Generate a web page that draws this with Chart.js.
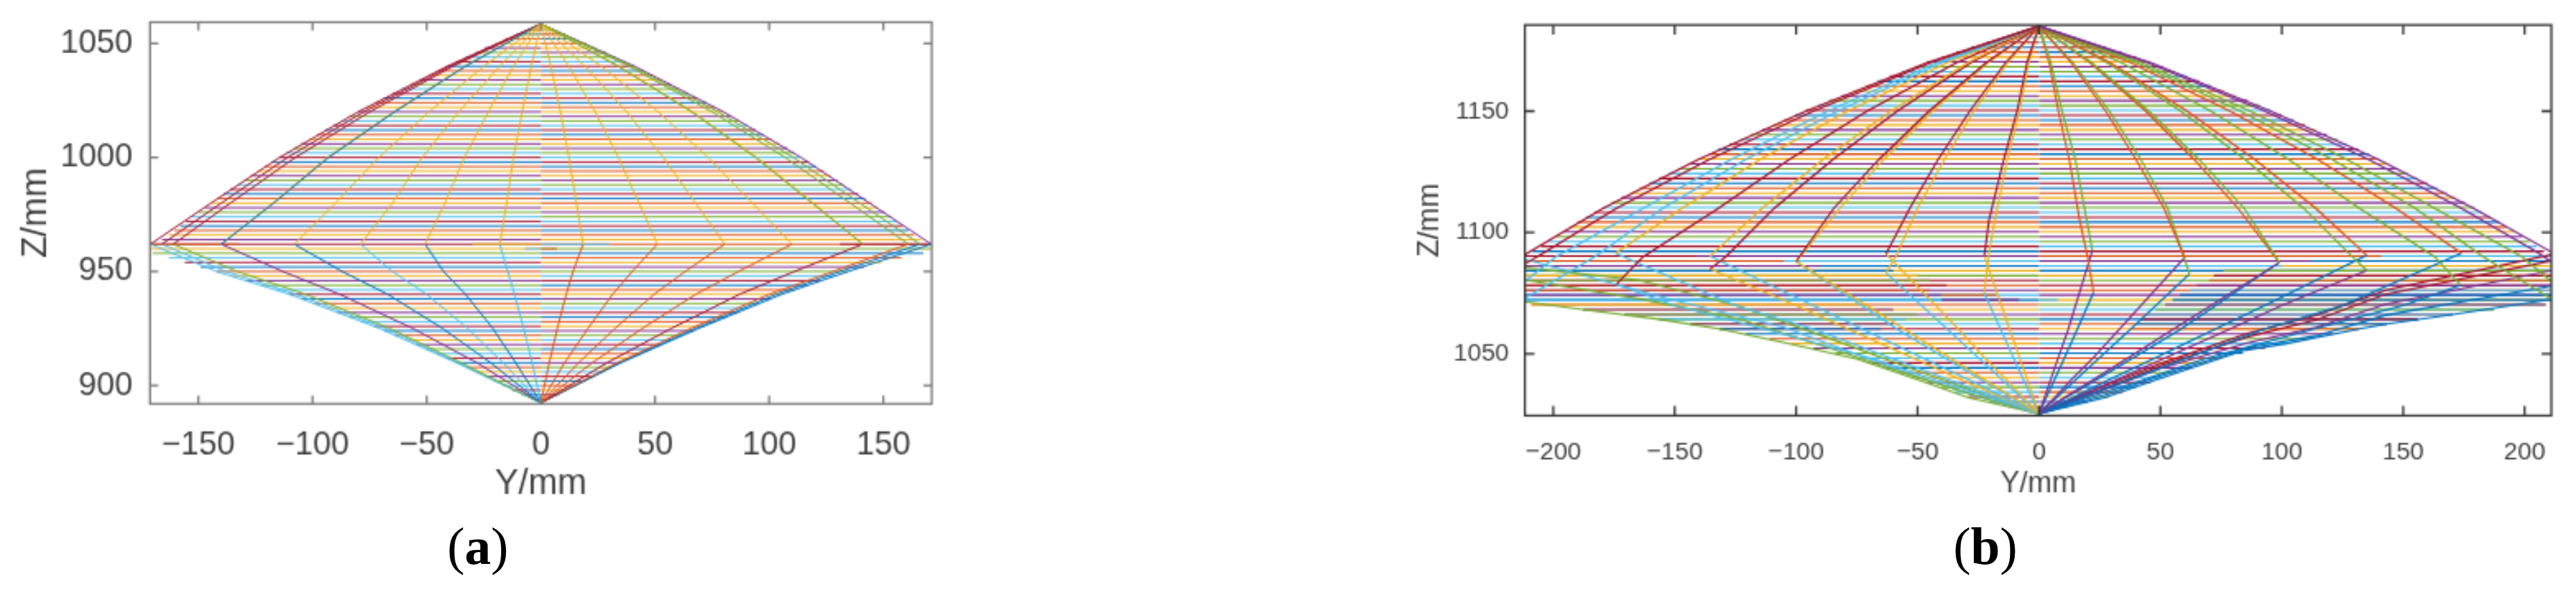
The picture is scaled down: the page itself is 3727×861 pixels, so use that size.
<!DOCTYPE html>
<html>
<head>
<meta charset="utf-8">
<title>Y/Z ray fans</title>
<script src="https://cdn.jsdelivr.net/npm/chart.js@4"></script>
<style>
  html, body { margin: 0; padding: 0; background: #fff; overflow: hidden; }
  body { width: 3727px; height: 861px; position: relative; }
  canvas { position: absolute; top: 0; }
  #chartA { left: 0; }
  #chartB { left: 2000px; }
  .cap { position: absolute; top: 740px; font: 76px "Liberation Serif", serif; color: #000; line-height: 100px; }
  #capA { left: 647px; }
  #capB { left: 2826px; }
</style>
</head>
<body>
<canvas id="chartA" width="1400" height="760"></canvas>
<canvas id="chartB" width="1727" height="760"></canvas>
<div class="cap" id="capA">(<b>a</b>)</div>
<div class="cap" id="capB">(<b>b</b>)</div>
<script>
const palette = { B: "#0072BD", O: "#D95319", Y: "#EDB120", P: "#7E2F8E", G: "#77AC30", L: "#4DBEEE", R: "#A2142F" };

// ---------- panel (a) ----------
const aXTicks = [-150, -100, -50, 0, 50, 100, 150];
const aYTicks = [900, 950, 1000, 1050];

const aLevels = [1056, 1054, 1052, 1050, 1048, 1046, 1044, 1042, 1040, 1038, 1036, 1034, 1032, 1030, 1028, 1026, 1024, 1022, 1020, 1018, 1016, 1014, 1012, 1010, 1008, 1006, 1004, 1002, 1000, 998, 996, 994, 992, 990, 988, 986, 984, 982, 980, 978, 976, 974, 972, 970, 968, 966, 964, 962, 960, 958, 956, 954, 952, 950, 948, 946, 944, 942, 940, 938, 936, 934, 932, 930, 928, 926, 924, 922, 920, 918, 916, 914, 912, 910, 908, 906, 904, 902, 900, 898, 896, 894];
const aNegEnd = [-5.5, -10.5, -15.5, -20, -24.5, -28.5, -33, -37, -41, -45, -49, -53, -57, -61, -65, -69, -72.5, -76.5, -80, -84, -87.5, -91, -94.5, -98, -101.5, -105, -108, -111.5, -114.5, -118, -121, -124, -127, -130, -133, -136, -139, -141.5, -144.5, -147, -150, -153, -155.5, -158, -160.5, -163, -166, -171, -171, -170, -163, -156, -149, -142, -135, -129, -122.5, -116, -110, -105, -99.5, -94, -89, -84, -79, -73, -68.5, -64, -59, -54.5, -50, -45.5, -41, -37, -32.5, -28.5, -24.5, -20.5, -16.5, -12.5, -8.5, -4];
const aPosEnd = [5.5, 10.5, 15, 20, 24, 28.5, 32.5, 37, 41, 45, 49, 53, 57, 60.5, 64.5, 68.5, 72.5, 76, 80, 83.5, 87, 90.5, 94, 97.5, 101, 104.5, 108, 111, 114, 117.5, 120.5, 124, 127, 130, 133, 136, 139, 142, 145, 147.5, 150.5, 153.5, 156, 158.5, 161, 163.5, 166.5, 171, 171, 167.5, 158, 149, 141.5, 134.5, 128, 122, 116.5, 111, 105.5, 100.5, 95.5, 90.5, 86, 81, 76.5, 71.5, 67, 62, 57.5, 52.5, 48, 43.5, 39, 35, 30.5, 27, 23, 19.5, 15.5, 11.5, 8, 3.5];
const aNegColors = "RBOYPGL".repeat(6) + "RBOYP" + "RYGL" + "RBOYPGL".repeat(4) + "RBO";
const aPosColors = "LRBOYPG".repeat(6) + "LRBOY" + "OG" + "BOYPG" + "LRBOYPG".repeat(4);
// pieces of a level that change colour near the knee: z, from, to, colour
const aPatches = [
  [962, -171, -132, "O"], [962, -30, 0, "Y"], [960, -7, 0, "L"],
  [962, 0, 30, "L"], [962, 131, 171, "R"], [960, 0, 7, "O"]
];

const aUpperZ = [1058.5, 1040, 1020, 1000, 980, 962];
const aLowerZ = [962, 950, 940, 925, 910, 892.5];
const aUpperRays = [
  [0, -4.2, -8.2, -12, -15, -18], [0, -12, -23, -33.5, -42, -50.7], [0, -18, -36, -52, -65, -79], [0, -25, -49, -71, -90, -108], [0, -33, -64, -93, -117, -140], [0, -33.4, -64.6, -93.6, -117.6, -140],
  [0, -38.5, -75, -107.6, -136, -161], [0, -39.8, -77.6, -111, -140, -166], [0, -41, -80, -114.5, -144.5, -171],
  [0, 4.4, 8.6, 12.3, 15.6, 18.5], [0, 12.2, 23.8, 34, 43, 51], [0, 19.3, 37.6, 53.6, 67.8, 80.5], [0, 26.4, 51.4, 73.3, 92.6, 110], [0, 33.8, 66, 94, 118.8, 141], [0, 34.2, 66.6, 94.6, 119.4, 141],
  [0, 38.5, 75, 107, 135.5, 161], [0, 39.8, 77.6, 110.6, 139.7, 166], [0, 41, 80, 114, 144, 171]
];
const aUpperColors = "YYYYBYRRRYYYYGYGGP";
const aLowerRays = [
  [-18, -14.5, -11.5, -7.5, -3.8, 0], [-50.7, -42.6, -33, -21, -11, 0], [-79, -65, -50, -32, -16.5, 0], [-108, -87, -67, -43, -22, 0], [-140, -113, -88, -56, -28, 0],
  [-161, -133, -103, -66, -35, 0], [-166, -138, -107, -68, -36, 0], [-171, -142, -110, -70.5, -37, 0],
  [18.5, 14.1, 11.1, 7.2, 3.7, 0], [51, 40, 31.4, 20.6, 10.4, 0], [80.5, 63.2, 49.6, 32.4, 16.5, 0], [110, 86.5, 67.8, 44.4, 22.5, 0], [141, 111, 87, 57, 29, 0],
  [161, 128, 100, 65.5, 33.5, 0], [166, 131, 103, 67.5, 34.5, 0], [171, 134.5, 105.5, 69, 35, 0]
];
const aLowerColors = "LBLBPGLLOOOOROBB";

// ---------- panel (b) ----------
const bXTicks = [-200, -150, -100, -50, 0, 50, 100, 150, 200];
const bYTicks = [1050, 1100, 1150];

const bLevels = [1182.3, 1180.3, 1178.3, 1176.3, 1174.3, 1172.3, 1170.3, 1168.3, 1166.3, 1164.3, 1162.3, 1160.3, 1158.3, 1156.3, 1154.3, 1152.3, 1150.3, 1148.3, 1146.3, 1144.3, 1142.3, 1140.3, 1138.3, 1136.3, 1134.3, 1132.3, 1130.3, 1128.3, 1126.3, 1124.3, 1122.3, 1120.3, 1118.3, 1116.3, 1114.3, 1112.3, 1110.3, 1108.3, 1106.3, 1104.3, 1102.3, 1100.3, 1098.3, 1096.3, 1094.3, 1092.3, 1090.3, 1088.3, 1086.3, 1084.3, 1082.3, 1080.3, 1078.3, 1076.3, 1074.3, 1072.3, 1070.3, 1068.3, 1066.3, 1064.3, 1062.3, 1060.3, 1058.3, 1056.3, 1054.3, 1052.3, 1050.3, 1048.3, 1046.3, 1044.3, 1042.3, 1040.3, 1038.3, 1036.3, 1034.3, 1032.3, 1030.3, 1028.3, 1026.3];
const bNegEnd = [-9, -15, -21.5, -28, -34, -40, -46, -51, -56.5, -61.5, -66.5, -71.5, -76.5, -81.5, -86.5, -91, -96, -100.5, -105, -109.5, -114, -118.5, -123, -127.5, -132, -136, -140.5, -144.5, -148.5, -152.5, -156.5, -160.5, -164.5, -168, -172, -176, -179.5, -183, -186.5, -190, -193, -196, -199, -202, -205, -208.5, -211.7, -211.7, -211.7, -211.7, -211.7, -211.7, -211.7, -211.7, -211.7, -211.7, -209, -187.7, -170.6, -156.4, -143.6, -131.6, -121, -111, -102, -93, -84, -75, -69, -63, -57, -51.5, -46, -40, -34.5, -29, -20, -12, -3.5];
const bPosEnd = [9, 15, 21, 27.5, 34, 40, 45.5, 51, 56, 61, 66, 71, 76, 81, 86, 91, 95.5, 100, 105, 109.5, 114, 118.5, 123, 127, 131.5, 136, 140, 144, 148, 152, 156, 160, 164, 168, 171.5, 175.5, 179, 182.5, 186, 189.5, 192.5, 196, 199, 202, 205, 208, 211, 211, 211, 211, 211, 211, 211, 211, 211, 211, 208.7, 187.4, 170.3, 156, 143.2, 131.8, 120.9, 111, 101.9, 93, 84, 75, 69, 63, 57, 51.5, 46, 40, 34.5, 29, 20, 12, 3.5];
const bNegColors = "GL" + "RBOYPGL".repeat(6) + "RB" + "PLBYGROPLB" + "OYPGL" + "RBOYPGL".repeat(2) + "RBOY";
const bPosColors = "PG" + "LRBOYPG".repeat(6) + "LROPLBYGRO" + "PYGLRBOYPG" + "LRBOYPG" + "LRBOYPGL";
// the outer part of these levels has another colour than the part near Y=0
const bSplitZ = [1090.3, 1088.3, 1086.3, 1084.3, 1082.3, 1080.3, 1078.3, 1076.3, 1074.3, 1072.3, 1070.3, 1068.3, 1066.3, 1064.3, 1062.3, 1060.3];
const bSplitNeg = [-141, -105, -90, -60, -50, -45, -38, -45, -40, -40, -70, -60, -50, -55, -60, -65];
const bSplitPos = [141, 112, 100, 76, 72, 70, 65, 62, 58, 55, 52, 48, 45, 42, 40, 38];
const bOuterNeg = "ROPBYGROPLYPGLRB";
const bOuterPos = "LBYGROPLBBPGLRBO";
const bPatches = [[1074.3, -40, -17.7, "O"], [1072.3, -40, -8.2, "P"], [1072.3, 0, 7.7, "L"]];

// polylines as [Y, Z] readings
const bRays = [
  // upper left
  ["R", [[0, 1185], [-46, 1170], [-96, 1150], [-140.5, 1130], [-179.5, 1110], [-211.5, 1091]]],
  ["R", [[0, 1185], [-44.5, 1170], [-93, 1150], [-136, 1130], [-174, 1110], [-205, 1091], [-211.7, 1087]]],
  ["L", [[0, 1185], [-42, 1170], [-87, 1150], [-127, 1130], [-163, 1110], [-199, 1090], [-211.7, 1080]]],
  ["L", [[0, 1185], [-40, 1170], [-83, 1150], [-121, 1130], [-155, 1110], [-183, 1090], [-211.7, 1073]]],
  ["Y", [[0, 1185], [-37.7, 1170], [-78.7, 1150], [-115, 1130], [-147, 1110], [-174.4, 1091.5]]],
  ["R", [[0, 1185], [-33.9, 1170], [-70.8, 1150], [-103, 1130], [-132, 1110], [-163, 1090], [-174, 1078.7]]],
  ["Y", [[0, 1185], [-29.3, 1170], [-61, 1150], [-89, 1130], [-114, 1110], [-135.5, 1090.3]]],
  ["R", [[0, 1185], [-28, 1170], [-58.4, 1150], [-85, 1130], [-109, 1110], [-129, 1090], [-135.5, 1085]]],
  ["R", [[0, 1185], [-21.7, 1170], [-45.3, 1150], [-66, 1130], [-84.5, 1110], [-100, 1088.1]]],
  ["Y", [[0, 1185], [-21, 1170], [-44, 1150], [-64, 1130], [-82, 1110], [-100, 1088.1]]],
  ["R", [[0, 1185], [-13.7, 1170], [-28.5, 1150], [-41.6, 1130], [-53.2, 1110], [-63, 1091.2]]],
  ["Y", [[0, 1185], [-12.8, 1170], [-26.8, 1150], [-39, 1130], [-50, 1110], [-59, 1090], [-63, 1083.4]]],
  ["R", [[0, 1185], [-4.9, 1170], [-9, 1150], [-14.5, 1130], [-20.6, 1105], [-22.5, 1090.4]]],
  ["Y", [[0, 1185], [-4.2, 1170], [-8, 1150], [-13, 1130], [-18.2, 1105], [-20.8, 1090], [-22.5, 1075]]],
  // lower left
  ["Y", [[-22.5, 1090.4], [-12, 1060], [-7.8, 1048], [-4.7, 1039], [-2.3, 1032], [0, 1025.4]]],
  ["L", [[-22.5, 1075], [-15.7, 1060], [-10.3, 1048], [-6.2, 1039], [-3, 1032], [0, 1025.4]]],
  ["Y", [[-63, 1091.2], [-33, 1060], [-22, 1048], [-13, 1039], [-6.4, 1032], [0, 1025.4]]],
  ["L", [[-63, 1083.4], [-37.6, 1060], [-24.5, 1048], [-14.8, 1039], [-7.2, 1032], [0, 1025.4]]],
  ["Y", [[-100, 1088.1], [-55, 1060], [-36, 1048], [-21.7, 1039], [-10.5, 1032], [0, 1025.4]]],
  ["L", [[-100, 1088.1], [-58, 1060], [-38, 1048], [-23, 1039], [-11, 1032], [0, 1025.4]]],
  ["L", [[-135.5, 1090.3], [-93, 1070], [-72, 1060], [-47, 1048], [-28, 1039], [-13.8, 1032], [0, 1025.4]]],
  ["Y", [[-135.5, 1085], [-100, 1070], [-78, 1060], [-51, 1048], [-31, 1039], [-15, 1032], [0, 1025.4]]],
  ["L", [[-174.4, 1091.5], [-125, 1070], [-92, 1060], [-60, 1048], [-36, 1039], [-17, 1032], [0, 1025.4]]],
  ["L", [[-174, 1078.7], [-150, 1070], [-112, 1060], [-68, 1048], [-42, 1039], [-20, 1032], [0, 1025.4]]],
  ["G", [[-211.5, 1085.5], [-165, 1080.5], [-124, 1069.8], [-85, 1056], [-50, 1043], [-22, 1033], [0, 1025.4]]],
  ["G", [[-211.5, 1080.5], [-164, 1072.6], [-124, 1064.6], [-85, 1052], [-52, 1041], [-25, 1032.5], [0, 1025.4]]],
  ["L", [[-211.5, 1089], [-150, 1072], [-105, 1061], [-70, 1048], [-45, 1039], [-22, 1031.5], [0, 1025.4]]],
  ["G", [[-211.5, 1071.5], [-187.7, 1068.3], [-156.4, 1064.3], [-131.6, 1060.3], [-102, 1054], [-75, 1048], [-51.5, 1040], [-29, 1032], [0, 1025.4]]],
  // upper right
  ["P", [[0, 1185], [46, 1170], [95.5, 1150], [140, 1130], [179, 1110], [211, 1092]]],
  ["P", [[0, 1185], [44.5, 1170], [93, 1150], [136, 1130], [174, 1110], [205, 1092], [211, 1088]]],
  ["G", [[0, 1185], [42, 1170], [87, 1150], [127, 1130], [163, 1110], [199, 1090], [211, 1080]]],
  ["G", [[0, 1185], [40, 1170], [83, 1150], [121, 1130], [155, 1110], [183, 1090], [211, 1072.6]]],
  ["O", [[0, 1185], [37.7, 1170], [78.7, 1150], [115, 1130], [147, 1110], [174, 1091.5]]],
  ["G", [[0, 1185], [33.9, 1170], [70.8, 1150], [103, 1130], [132, 1110], [163, 1090], [173.6, 1078.3]]],
  ["O", [[0, 1185], [29.3, 1170], [61, 1150], [89, 1130], [114, 1110], [135, 1090.6]]],
  ["G", [[0, 1185], [28, 1170], [58.4, 1150], [85, 1130], [109, 1110], [129, 1090], [135, 1084.4]]],
  ["G", [[0, 1185], [21.7, 1170], [45.3, 1150], [66, 1130], [84.5, 1110], [99, 1087.7]]],
  ["O", [[0, 1185], [21, 1170], [44, 1150], [64, 1130], [82, 1110], [99, 1087.7]]],
  ["O", [[0, 1185], [13.2, 1170], [27.5, 1150], [40, 1130], [51.5, 1110], [60, 1089.7]]],
  ["G", [[0, 1185], [14, 1170], [29, 1150], [42, 1130], [53, 1110], [59, 1092], [62, 1083]]],
  ["G", [[0, 1185], [4.9, 1170], [9.5, 1150], [15, 1130], [19.7, 1105], [22, 1092.6]]],
  ["O", [[0, 1185], [4.2, 1170], [8, 1150], [12.5, 1130], [16.8, 1105], [20, 1090], [22.5, 1075.4]]],
  // lower right
  ["P", [[22, 1092.6], [12, 1060], [7.8, 1048], [4.7, 1039], [2.3, 1032], [0, 1025.4]]],
  ["B", [[22.5, 1075.4], [15.7, 1060], [10.3, 1048], [6.2, 1039], [3, 1032], [0, 1025.4]]],
  ["P", [[60, 1089.7], [33, 1060], [22, 1048], [13, 1039], [6.4, 1032], [0, 1025.4]]],
  ["B", [[62, 1083], [37.6, 1060], [24.5, 1048], [14.8, 1039], [7.2, 1032], [0, 1025.4]]],
  ["P", [[99, 1087.7], [55, 1060], [36, 1048], [21.7, 1039], [10.5, 1032], [0, 1025.4]]],
  ["B", [[99, 1087.7], [58, 1060], [38, 1048], [23, 1039], [11, 1032], [0, 1025.4]]],
  ["B", [[135, 1090.6], [93, 1070], [72, 1060], [47, 1048], [28, 1039], [13.8, 1032], [0, 1025.4]]],
  ["P", [[135, 1084.4], [100, 1070], [78, 1060], [51, 1048], [31, 1039], [15, 1032], [0, 1025.4]]],
  ["B", [[174, 1091.5], [125, 1070], [92, 1060], [60, 1048], [36, 1039], [17, 1032], [0, 1025.4]]],
  ["B", [[173.6, 1078.3], [150, 1070], [112, 1060], [68, 1048], [42, 1039], [20, 1032], [0, 1025.4]]],
  ["B", [[211.5, 1078], [142.7, 1066], [114.2, 1057.5], [85.8, 1052.5], [50, 1041], [27, 1033], [0, 1025.4]]],
  ["B", [[211.5, 1072.6], [170.3, 1066.3], [143.2, 1062.3], [131.8, 1060.3], [101.9, 1054.3], [85, 1051.6], [50, 1040], [27, 1032], [0, 1025.4]]],
  ["P", [[211.5, 1084.5], [142.7, 1070.5], [114.2, 1061], [85.8, 1054.5], [50, 1044], [25, 1034.5], [0, 1025.4]]],
  ["R", [[211.5, 1088.5], [142.7, 1074.5], [114.2, 1064], [85.8, 1057], [50, 1045], [25, 1035], [0, 1025.4]]],
  ["R", [[211.5, 1091], [142.7, 1076.3], [114.2, 1065.9], [85.8, 1058.5], [50, 1046], [25, 1036], [0, 1025.4]]]
];

// ---------- helpers ----------
function line(points, colour, width) {
  return { data: points, borderColor: palette[colour], borderWidth: width };
}

function levelLines(levels, negEnd, posEnd, negColors, posColors, width) {
  const out = [];
  levels.forEach((z, i) => {
    out.push(line([{ x: 0, y: z }, { x: negEnd[i], y: z }], negColors[i], width));
    out.push(line([{ x: 0, y: z }, { x: posEnd[i], y: z }], posColors[i], width));
  });
  return out;
}

function patchLines(patches, width) {
  return patches.map((p) => line([{ x: p[1], y: p[0] }, { x: p[2], y: p[0] }], p[3], width));
}

function zipRays(rows, zs, colors, width) {
  return rows.map((ys, i) => line(ys.map((y, j) => ({ x: y, y: zs[j] })), colors[i], width));
}

// box and inward ticks, MATLAB style
function boxPlugin(colour, boxWidth, tickLen) {
  return {
    id: "box",
    afterDatasetsDraw(chart) {
      const { ctx, chartArea: a, scales } = chart;
      ctx.save();
      ctx.strokeStyle = colour;
      ctx.lineWidth = boxWidth;
      ctx.strokeRect(a.left, a.top, a.right - a.left, a.bottom - a.top);
      ctx.beginPath();
      scales.x.ticks.forEach((t) => {
        const px = scales.x.getPixelForValue(t.value);
        ctx.moveTo(px, a.top); ctx.lineTo(px, a.top + tickLen);
        ctx.moveTo(px, a.bottom); ctx.lineTo(px, a.bottom - tickLen);
      });
      scales.y.ticks.forEach((t) => {
        const py = scales.y.getPixelForValue(t.value);
        ctx.moveTo(a.left, py); ctx.lineTo(a.left + tickLen, py);
        ctx.moveTo(a.right, py); ctx.lineTo(a.right - tickLen, py);
      });
      ctx.stroke();
      ctx.restore();
    }
  };
}

function panel(id, datasets, cfg) {
  const noMargins = (s) => { s.paddingTop = 0; s.paddingBottom = 0; s.paddingLeft = 0; s.paddingRight = 0; };
  const scale = (range, ticks, title, titlePad, tickPad, fit) => ({
    type: "linear",
    min: range[0],
    max: range[1],
    afterBuildTicks: (s) => { s.ticks = ticks.map((v) => ({ value: v })); },
    afterFit: (s) => { fit(s); noMargins(s); },
    grid: { display: false },
    border: { display: false },
    title: { display: true, text: title, color: cfg.textColor, font: { family: "Liberation Sans", size: cfg.titleSize }, padding: titlePad },
    ticks: {
      padding: tickPad,
      maxRotation: 0,
      color: cfg.textColor,
      font: { family: "Liberation Sans", size: cfg.tickSize },
      callback: (v) => String(v).replace("-", "\u2212")
    }
  });
  return new Chart(document.getElementById(id), {
    type: "scatter",
    data: { datasets },
    plugins: [boxPlugin(cfg.boxColor, cfg.boxWidth, cfg.tickLen)],
    options: {
      responsive: false,
      animation: false,
      devicePixelRatio: 0.4207,
      layout: { padding: cfg.padding },
      datasets: { scatter: { showLine: true, pointRadius: 0, pointHoverRadius: 0 } },
      plugins: { legend: { display: false }, tooltip: { enabled: false } },
      events: [],
      scales: {
        x: scale(cfg.xRange, cfg.xTicks, "Y/mm", cfg.xTitlePad, cfg.xTickPad, (s) => { s.height = cfg.xHeight; }),
        y: scale(cfg.yRange, cfg.yTicks, "Z/mm", cfg.yTitlePad, cfg.yTickPad, (s) => { s.width = cfg.yWidth; })
      }
    }
  });
}

// ---------- build ----------
const aWidth = 2.2;
const aData = [].concat(
  zipRays(aUpperRays, aUpperZ, aUpperColors, aWidth),
  zipRays(aLowerRays, aLowerZ, aLowerColors, aWidth),
  patchLines(aPatches, aWidth),
  levelLines(aLevels, aNegEnd, aPosEnd, aNegColors, aPosColors, aWidth)
);
panel("chartA", aData, {
  xRange: [-171.2, 171.2], yRange: [892, 1059.3], xTicks: aXTicks, yTicks: aYTicks,
  padding: { left: 0, top: 32, right: 52, bottom: 0 },
  xHeight: 177, yWidth: 217, xTitlePad: { bottom: 31 }, yTitlePad: { top: 21 }, xTickPad: 25, yTickPad: 17,
  tickSize: 47, titleSize: 51, textColor: "#404040", boxColor: "#7a7a7a", boxWidth: 3, tickLen: 12
});

const bWidth = 2.6;
const bSplitLines = [];
bSplitZ.forEach((z, i) => {
  const k = bLevels.indexOf(z);
  bSplitLines.push(line([{ x: bSplitNeg[i], y: z }, { x: bNegEnd[k], y: z }], bOuterNeg[i], bWidth));
  bSplitLines.push(line([{ x: bSplitPos[i], y: z }, { x: bPosEnd[k], y: z }], bOuterPos[i], bWidth));
});
const bData = [].concat(
  bRays.map((r) => line(r[1].map((p) => ({ x: p[0], y: p[1] })), r[0], bWidth)),
  patchLines(bPatches, bWidth),
  bSplitLines,
  levelLines(bLevels, bNegEnd, bPosEnd, bNegColors, bPosColors, bWidth)
);
panel("chartB", bData, {
  xRange: [-211.7, 211], yRange: [1024.6, 1185.5], xTicks: bXTicks, yTicks: bYTicks,
  padding: { left: 0, top: 36, right: 37, bottom: 0 },
  xHeight: 160, yWidth: 206, xTitlePad: { bottom: 35 }, yTitlePad: { top: 44 }, xTickPad: 24, yTickPad: 15,
  tickSize: 36, titleSize: 42, textColor: "#404040", boxColor: "#333333", boxWidth: 3, tickLen: 14
});
</script>
</body>
</html>
